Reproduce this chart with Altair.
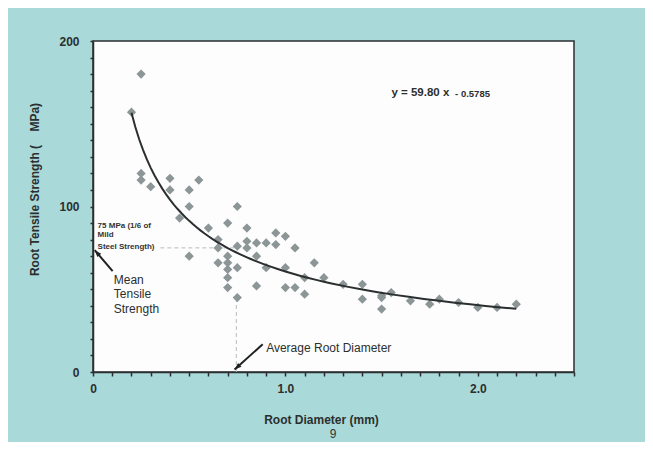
import altair as alt
import pandas as pd

# Root diameter (mm) and root tensile strength (MPa)
diameter = [0.20, 0.25, 0.25, 0.25, 0.30, 0.40, 0.40, 0.45, 0.50, 0.50, 0.50, 0.55,
            0.60, 0.65, 0.65, 0.65, 0.70, 0.70, 0.70, 0.70, 0.70, 0.70,
            0.75, 0.75, 0.75, 0.75, 0.80, 0.80, 0.80, 0.85, 0.85, 0.85,
            0.90, 0.90, 0.95, 0.95, 1.00, 1.00, 1.00, 1.05, 1.05, 1.10, 1.10,
            1.15, 1.20, 1.30, 1.40, 1.40, 1.50, 1.50, 1.50, 1.55, 1.65, 1.75,
            1.80, 1.90, 2.00, 2.10, 2.20]
strength = [157, 180, 120, 116, 112, 117, 110, 93, 110, 100, 70, 116,
            87, 80, 75, 66, 90, 70, 66, 62, 57, 51,
            100, 76, 63, 45, 87, 79, 75, 78, 70, 52,
            78, 63, 84, 77, 82, 63, 51, 75, 51, 57, 47,
            66, 57, 53, 53, 44, 46, 45, 38, 48, 43, 41,
            44, 42, 39, 39, 41]

x_ticks = [i / 10 for i in range(26)]
y_ticks = list(range(0, 201, 10))

mean_strength = 75
avg_diameter = 0.745

df = pd.DataFrame({"d": diameter, "s": strength})

TEAL = "#aad9d9"
DARK = "#2b2f2f"
FONT = "Liberation Sans"
NB = "\u00a0"

x_scale = alt.Scale(domain=[0, 2.5], nice=False, zero=False)
y_scale = alt.Scale(domain=[0, 200], nice=False)

x_axis = alt.Axis(
    values=x_ticks,
    labelExpr="datum.value == 0 ? '0' : (abs(datum.value - round(datum.value)) < 0.001 ? format(datum.value, '.1f') : '')",
    labelOverlap=False, labelFlush=False, grid=False,
    tickSize=4, tickColor=DARK, tickWidth=1.5,
    domainColor=DARK, domainWidth=1.5,
    labelFont=FONT, labelFontSize=12, labelFontWeight="bold", labelColor=DARK, labelPadding=7,
    title="Root Diameter (mm)", titleFont=FONT, titleFontSize=12, titleFontWeight="bold",
    titleColor=DARK, titleX=228, titleY=47, titleBaseline="middle",
)
y_axis = alt.Axis(
    values=y_ticks,
    labelExpr="(datum.value == 0 || datum.value == 100 || datum.value == 200) ? format(datum.value, 'd') : ''",
    labelOverlap=False, labelFlush=False, labelBound=False, grid=False,
    tickSize=3, tickColor=DARK, tickWidth=1.5,
    domainColor=DARK, domainWidth=1.5,
    labelFont=FONT, labelFontSize=12, labelFontWeight="bold", labelColor=DARK, labelPadding=11,
    title="Root Tensile Strength (" + NB * 4 + "MPa)", titleFont=FONT, titleFontSize=12,
    titleFontWeight="bold", titleColor=DARK, titleX=-59, titleY=148,
    titleBaseline="middle", titleAlign="center",
)

base = alt.Chart(df)

points = base.mark_point(
    shape="diamond", filled=True, size=85, color="#8c9696", opacity=1
).encode(
    x=alt.X("d:Q", scale=x_scale, axis=x_axis),
    y=alt.Y("s:Q", scale=y_scale, axis=y_axis),
)

curve = base.transform_regression(
    "d", "s", method="pow", extent=[0.2, 2.2]
).mark_line(color=DARK, strokeWidth=2).encode(
    x=alt.X("d:Q", scale=x_scale, axis=x_axis), y=alt.Y("s:Q", scale=y_scale, axis=y_axis)
)

# dashed guide lines
hline = alt.Chart(pd.DataFrame({"x": [0.35], "x2": [avg_diameter], "y": [mean_strength]})).mark_rule(
    color="#b8bcbc", strokeDash=[4, 3], strokeWidth=1
).encode(x=alt.X("x:Q", scale=x_scale, axis=x_axis), x2="x2:Q", y=alt.Y("y:Q", scale=y_scale, axis=y_axis))
vline = alt.Chart(pd.DataFrame({"x": [avg_diameter], "y": [0], "y2": [44]})).mark_rule(
    color="#b8bcbc", strokeDash=[4, 3], strokeWidth=1
).encode(x=alt.X("x:Q", scale=x_scale, axis=x_axis), y=alt.Y("y:Q", scale=y_scale, axis=y_axis), y2="y2:Q")

# arrows
arrows = pd.DataFrame({
    "x": [0.882, 0.102], "y": [16.8, 60.9],
    "x2": [0.736, 0.009], "y2": [1.5, 73.6], "angle": [228, 319],
})
shafts = alt.Chart(arrows).mark_rule(color="#1f2222", strokeWidth=2).encode(
    x=alt.X("x:Q", scale=x_scale, axis=x_axis), y=alt.Y("y:Q", scale=y_scale, axis=y_axis), x2="x2:Q", y2="y2:Q"
)
heads = alt.Chart(arrows).mark_point(
    shape="M0,0 L-0.8,2.2 L0.8,2.2 Z", filled=True, size=40, color="#1f2222", opacity=1
).encode(
    x=alt.X("x2:Q", scale=x_scale, axis=x_axis), y=alt.Y("y2:Q", scale=y_scale, axis=y_axis),
    angle=alt.Angle("angle:Q", scale=None)
)

# annotation texts
def label_layer(frame, **style):
    return alt.Chart(frame).mark_text(align="left", baseline="middle", font=FONT, **style).encode(
        x=alt.X("x:Q", scale=x_scale, axis=x_axis),
        y=alt.Y("y:Q", scale=y_scale, axis=y_axis),
        text="t:N",
    )

small_text = label_layer(
    pd.DataFrame({"x": [0.024, 0.024, 0.024], "y": [88.4, 82.6, 75.8],
                  "t": ["75 MPa (1/6 of", "Mild", "Steel Strength)"]}),
    fontSize=8, color="#333", fontWeight="bold")
mean_text = label_layer(
    pd.DataFrame({"x": [0.108, 0.108, 0.108], "y": [55.5, 47.4, 37.9],
                  "t": ["Mean", "Tensile", "Strength"]}),
    fontSize=12, color=DARK)
avg_text = label_layer(
    pd.DataFrame({"x": [0.90], "y": [14.5], "t": ["Average Root Diameter"]}),
    fontSize=12, color=DARK)
eq_main = label_layer(
    pd.DataFrame({"x": [1.551], "y": [168.8], "t": ["y = 59.80 x"]}),
    fontSize=11.5, fontWeight="bold", color=DARK)
eq_exp = label_layer(
    pd.DataFrame({"x": [1.882], "y": [167.9], "t": ["- 0.5785"]}),
    fontSize=9.5, fontWeight="bold", color=DARK)

page_no = alt.Chart(pd.DataFrame({"t": ["9"]})).mark_text(
    align="center", baseline="middle", font=FONT, fontSize=12, color="#333"
).encode(x=alt.value(240), y=alt.value(393), text="t:N")

chart = alt.layer(
    hline, vline, points, curve, shafts, heads, small_text, mean_text, avg_text, eq_main, eq_exp, page_no
).properties(
    width=481, height=331,
    padding={"left": 85, "top": 33, "right": 71, "bottom": 70},
    autosize="none",
    background=TEAL,
).configure_view(
    fill="#fdfdfd", stroke=DARK, strokeWidth=1.5
)

chart.save("out.html", embed_options={"renderer": "svg", "actions": False})
